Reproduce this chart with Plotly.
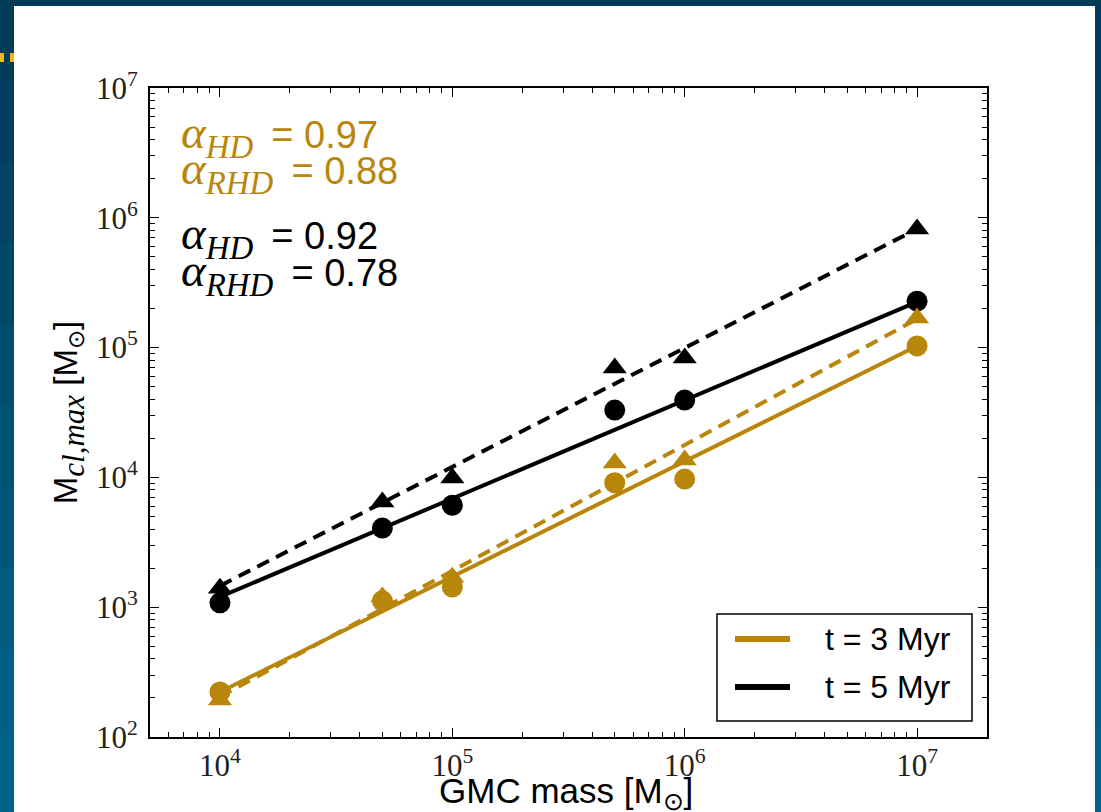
import plotly.graph_objects as go

# ---------------- data ----------------
gmc_mass = [1e4, 5e4, 1e5, 5e5, 1e6, 1e7]

# t = 3 Myr (gold)
rhd_3myr = [222, 1.12e3, 1.43e3, 9.1e3, 9.7e3, 1.03e5]      # circles
hd_3myr = [193, 1.2e3, 1.7e3, 1.29e4, 1.36e4, 1.69e5]       # triangles
# t = 5 Myr (black)
rhd_5myr = [1.08e3, 4.07e3, 6.1e3, 3.3e4, 3.94e4, 2.28e5]   # circles
hd_5myr = [1.4e3, 6.45e3, 9.9e3, 6.97e4, 8.3e4, 8.2e5]      # triangles

# power-law fits, evaluated at the ends of the mass range
fit_mass = [1e4, 1e7]
fit_rhd_3myr = [222, 1.03e5]
fit_hd_3myr = [204, 1.66e5]
fit_rhd_5myr = [1.2e3, 2.25e5]
fit_hd_5myr = [1.46e3, 8.2e5]

alpha_labels = [("HD", "0.97"), ("RHD", "0.88"), ("HD", "0.92"), ("RHD", "0.78")]
legend_labels = ["t = 3 Myr", "t = 5 Myr"]

x_tick_exp = [4, 5, 6, 7]
y_tick_exp = [2, 3, 4, 5, 6, 7]

GOLD = "#b8860b"
BLACK = "#000000"
SERIF = "Liberation Serif"
SANS = "Liberation Sans"

# ---------------- geometry helpers (plot area in pixels) ----------------
W, H = 1101, 812
L, R, T, B = 150, 987, 88, 737


def px(x):
    return (x - L) / (R - L)


def py(y):
    return (B - y) / (B - T)


fig = go.Figure()

# fit lines
for xs, ys, col, dash in [
    (fit_mass, fit_hd_5myr, BLACK, "13px,8px"),
    (fit_mass, fit_rhd_5myr, BLACK, "solid"),
    (fit_mass, fit_hd_3myr, GOLD, "13px,8px"),
    (fit_mass, fit_rhd_3myr, GOLD, "solid"),
]:
    fig.add_trace(go.Scatter(x=xs, y=ys, mode="lines", showlegend=False,
                             line=dict(color=col, width=4, dash=dash),
                             hoverinfo="skip"))

# data markers
for ys, col, sym, size, name in [
    (hd_5myr, BLACK, "triangle-up", 21, "HD, t = 5 Myr"),
    (rhd_5myr, BLACK, "circle", 21, "RHD, t = 5 Myr"),
    (hd_3myr, GOLD, "triangle-up", 21, "HD, t = 3 Myr"),
    (rhd_3myr, GOLD, "circle", 21, "RHD, t = 3 Myr"),
]:
    fig.add_trace(go.Scatter(x=gmc_mass, y=ys, mode="markers", name=name,
                             showlegend=False,
                             marker=dict(color=col, symbol=sym, size=size,
                                         line=dict(width=0))))

shapes = []
# slide background bands (gradient)
band_cols = ["#003b57", "#003f5d", "#004362", "#004868", "#004d6e",
             "#005274", "#00577a", "#005c80", "#006086", "#00638a"]
nb = len(band_cols)
for i, c in enumerate(band_cols):
    y0 = i * H / nb
    y1 = (i + 1) * H / nb + 1
    shapes.append(dict(type="rect", xref="paper", yref="paper",
                       x0=px(-5), x1=px(W + 5), y0=py(y1), y1=py(y0),
                       fillcolor=c, line=dict(width=0), layer="below"))
# white slide panel
shapes.append(dict(type="rect", xref="paper", yref="paper",
                   x0=px(14), x1=px(1095), y0=py(H + 5), y1=py(6),
                   fillcolor="white", line=dict(width=0), layer="below"))
# small yellow bullets at top-left
for x0, x1 in [(0, 4), (10, 14)]:
    shapes.append(dict(type="rect", xref="paper", yref="paper",
                       x0=px(x0), x1=px(x1), y0=py(62), y1=py(53),
                       fillcolor="#f6b60f", line=dict(width=0), layer="above"))

# manual legend
shapes.append(dict(type="rect", xref="paper", yref="paper",
                   x0=px(717), x1=px(972), y0=py(721), y1=py(614),
                   fillcolor="white", line=dict(color="black", width=1.5),
                   layer="above"))
for yy, col in [(639, GOLD), (687, BLACK)]:
    shapes.append(dict(type="line", xref="paper", yref="paper",
                       x0=px(735), x1=px(790), y0=py(yy), y1=py(yy),
                       line=dict(color=col, width=6), layer="above"))

annotations = []
for lab, yy in zip(legend_labels, [639, 687]):
    annotations.append(dict(xref="paper", yref="paper", x=px(823), y=py(yy),
                            text=lab, showarrow=False, xanchor="left",
                            yanchor="middle",
                            font=dict(family=SANS, size=32, color="black")))

# alpha annotations
alpha_y = [135, 171, 237, 273]
alpha_col = [GOLD, GOLD, BLACK, BLACK]
for (sub, val), yy, col in zip(alpha_labels, alpha_y, alpha_col):
    txt = (f'<span style="font-family:{SERIF};font-size:47px"><i>α</i>'
           f'<sub><i>{sub}</i></sub></span>\u2009 = {val}')
    annotations.append(dict(xref="paper", yref="paper", x=px(179), y=py(yy),
                            text=txt, showarrow=False, xanchor="left",
                            yanchor="middle",
                            font=dict(family=SANS, size=38, color=col)))

# x-axis title placed as a paper annotation (below the tick labels)
annotations.append(dict(xref="paper", yref="paper", x=px(566), y=py(793),
                        text="GMC mass [M<sub>⊙</sub>]", showarrow=False,
                        xanchor="center", yanchor="middle",
                        font=dict(family=SANS, size=35, color="black")))

axis_common = dict(
    type="log", showgrid=False, zeroline=False, automargin=False,
    showline=True, linecolor="black", linewidth=2, mirror="allticks",
    ticks="inside", ticklen=9, tickwidth=1.2, tickcolor="black",
    tickfont=dict(family=SERIF, size=31, color="#222222"),
    minor=dict(ticks="inside", ticklen=5, tickwidth=1, tickcolor="black",
               dtick="D1", showgrid=False),
)

fig.update_xaxes(
    **axis_common,
    range=[3.699, 7.301],
    tickvals=[10 ** e for e in x_tick_exp],
    ticktext=[f"10<sup>{e}</sup>" for e in x_tick_exp],
)
fig.update_yaxes(
    **axis_common,
    range=[2, 7],
    tickvals=[10 ** e for e in y_tick_exp],
    ticktext=[f"10<sup>{e}</sup>" for e in y_tick_exp],
    ticklabelstandoff=4,
    title=dict(text=(f'M<sub><span style="font-family:{SERIF};font-size:31px">'
                     '<i>cl,max</i></span></sub> [M<sub>⊙</sub>]'),
               font=dict(family=SANS, size=33, color="black"), standoff=8),
)

fig.update_layout(
    width=W, height=H,
    margin=dict(l=L, r=W - R, t=T, b=H - B, pad=0, autoexpand=False),
    paper_bgcolor="#004a6b",
    plot_bgcolor="white",
    shapes=shapes,
    annotations=annotations,
    showlegend=False,
)

fig.write_html("out.html")
